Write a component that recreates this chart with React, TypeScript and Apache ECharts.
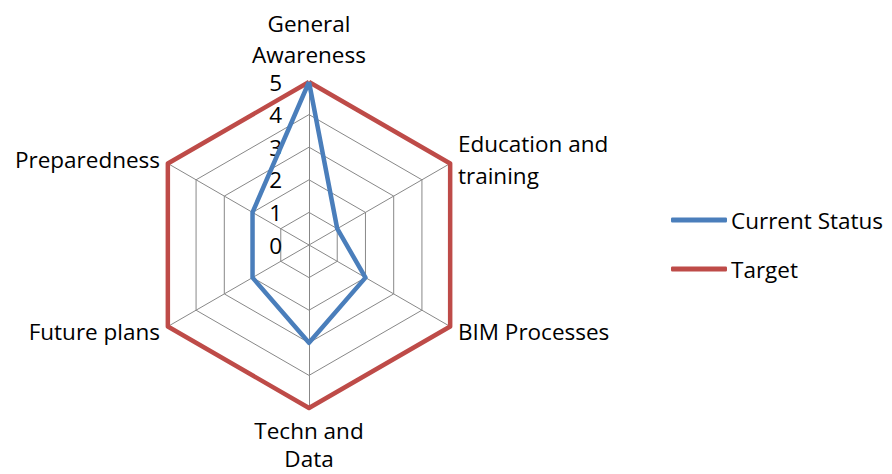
import React, { useEffect, useRef } from "react";
import * as echarts from "echarts";

const indicators = [
  "General\nAwareness",
  "Preparedness",
  "Future plans",
  "Techn and\nData",
  "BIM Processes",
  "Education and\ntraining",
];
const maxValue = 5;
const currentStatus = [5, 2, 2, 3, 2, 1];
const target = [5, 5, 5, 5, 5, 5];
const seriesNames = ["Current Status", "Target"];
const colors = ["#4A7EBB", "#BE4B48"];

const FONT = "Open Sans";
const FS = 22.5;

export default function App() {
  const ref = useRef<HTMLDivElement>(null);
  useEffect(() => {
    const chart = echarts.init(ref.current!, null, { renderer: "svg" });
    chart.setOption({
      animation: false,
      textStyle: { fontFamily: FONT },
      legend: {
        orient: "vertical",
        left: 671,
        top: 208,
        padding: 0,
        itemWidth: 56,
        itemHeight: 5,
        itemGap: 25,
        icon: "roundRect",
        textStyle: {
          fontFamily: FONT,
          fontSize: FS,
          lineHeight: 24,
          color: "#000",
          padding: [0, 0, 0, -1],
        },
        data: seriesNames,
      },
      radar: {
        center: [309, 245],
        radius: 163,
        startAngle: 90,
        splitNumber: 5,
        shape: "polygon",
        nameGap: 9,
        axisName: { color: "#000", fontFamily: FONT, fontSize: FS, lineHeight: 32 },
        axisLine: { lineStyle: { color: "#888", width: 1 } },
        splitLine: { lineStyle: { color: "#888", width: 1 } },
        splitArea: { show: false },
        axisTick: { show: false },
        axisLabel: { show: false },
        indicator: indicators.map((name, i) => {
          const ind: any = { name, min: 0, max: maxValue };
          if (i === 0) {
            ind.nameGap = 12;
            ind.nameTextStyle = { lineHeight: 31 };
            ind.axisLabel = {
              show: true,
              color: "#000",
              fontFamily: FONT,
              fontSize: FS,
              lineHeight: 20,
              margin: 27,
              showMinLabel: true,
            };
          }
          if (i === 3) {
            ind.nameGap = 8;
            ind.nameTextStyle = { lineHeight: 28 };
          }
          return ind;
        }),
      },
      series: [
        {
          type: "radar",
          symbol: "none",
          data: [
            {
              name: seriesNames[1],
              value: target,
              lineStyle: { color: colors[1], width: 4.5 },
              itemStyle: { color: colors[1] },
            },
            {
              name: seriesNames[0],
              value: currentStatus,
              lineStyle: { color: colors[0], width: 4.5 },
              itemStyle: { color: colors[0] },
            },
          ],
        },
      ],
    });
    return () => chart.dispose();
  }, []);
  return (
    <div
      ref={ref}
      style={{ position: "absolute", left: 0, top: 0, width: 892, height: 474 }}
    />
  );
}
